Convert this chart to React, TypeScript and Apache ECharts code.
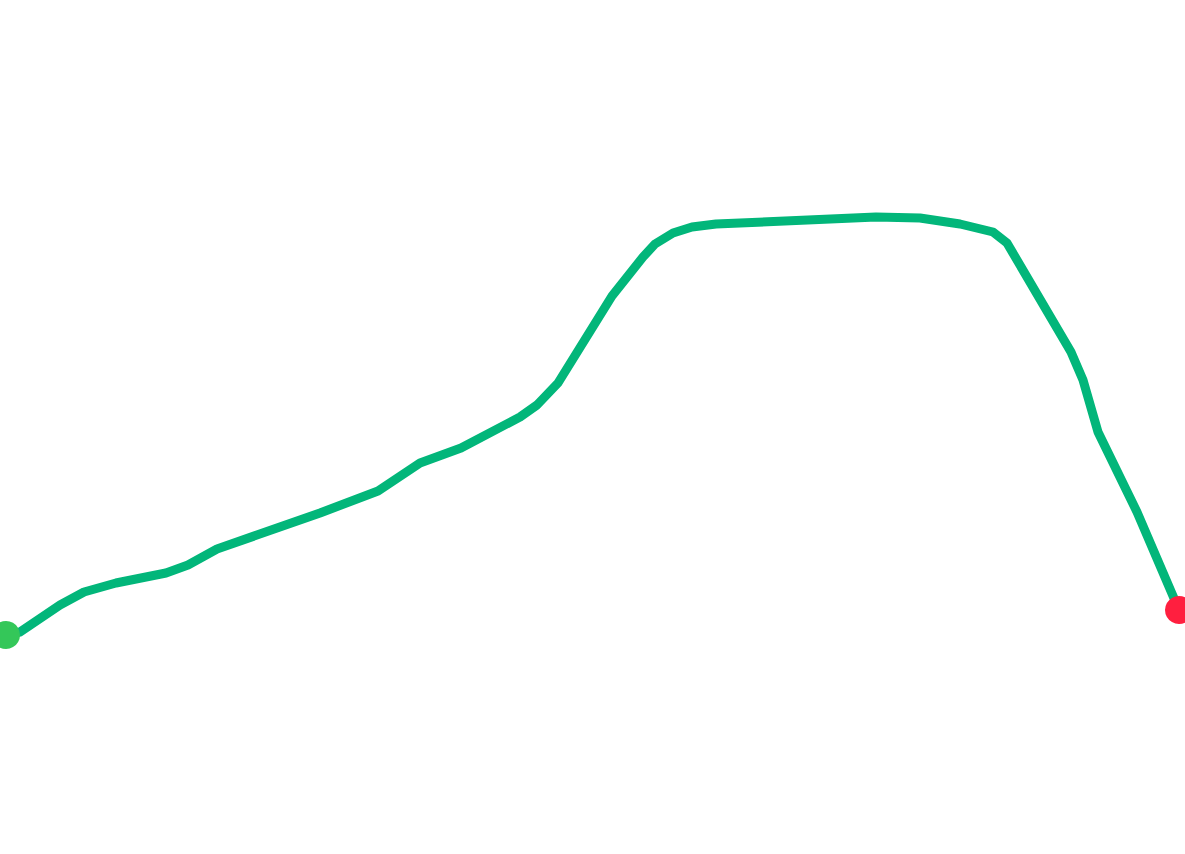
import React, { useEffect, useRef } from "react";
import * as echarts from "echarts";

// distance along route (km)
const distanceKm = [
  0, 0.14, 0.54, 0.78, 1.1, 1.6, 1.82, 2.11, 3.14, 3.72, 4.14, 4.55, 5.14, 5.31, 5.52,
  6.06, 6.37, 6.49, 6.67, 6.86, 7.1, 8.7, 9.14, 9.54, 9.87, 10.01, 10.65, 10.77, 10.92,
  11.31, 11.73,
];
// elevation (m)
const elevationM = [
  219, 222, 249, 262, 271, 281, 289, 305, 341, 363, 391, 406, 437, 449, 471, 558, 597,
  610, 621, 627, 630, 637, 636, 630, 622, 611, 502, 474, 422, 342, 244,
];

const LINE_COLOR = "#02b67a";
const START_COLOR = "#34c759";
const END_COLOR = "#ff1f3f";

export default function App() {
  const ref = useRef<HTMLDivElement>(null);
  useEffect(() => {
    if (!ref.current) return;
    const chart = echarts.init(ref.current, null, { renderer: "svg" });
    const pts = distanceKm.map((d, i) => [d, elevationM[i]]);
    chart.setOption({
      animation: false,
      grid: { left: 6, right: 6, top: 0, bottom: 0 },
      xAxis: {
        type: "value",
        min: 0,
        max: distanceKm[distanceKm.length - 1],
        show: false,
      },
      yAxis: { type: "value", min: 0, max: 854, show: false },
      series: [
        {
          type: "line",
          data: pts,
          symbol: "none",
          lineStyle: { color: LINE_COLOR, width: 9, join: "round" },
          clip: false,
          z: 2,
        },
        {
          type: "scatter",
          data: [pts[0]],
          symbol: "circle",
          symbolSize: 28,
          itemStyle: { color: START_COLOR, opacity: 1 },
          clip: false,
          z: 5,
        },
        {
          type: "scatter",
          data: [pts[pts.length - 1]],
          symbol: "circle",
          symbolSize: 28,
          itemStyle: { color: END_COLOR, opacity: 1 },
          clip: false,
          z: 5,
        },
      ],
    });
    return () => chart.dispose();
  }, []);
  return (
    <div
      ref={ref}
      style={{ position: "absolute", left: 0, top: 0, width: 1185, height: 854, background: "#fff" }}
    />
  );
}
